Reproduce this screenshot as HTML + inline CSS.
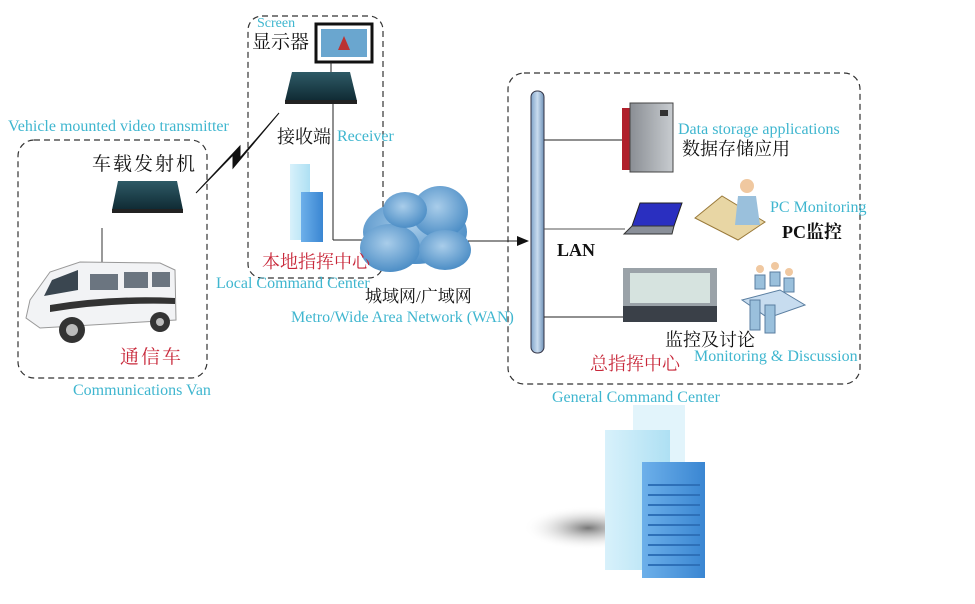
<!DOCTYPE html>
<html><head><meta charset="utf-8">
<style>
html,body{margin:0;padding:0;background:#fff;}
body{width:975px;height:604px;position:relative;overflow:hidden;}
svg{position:absolute;left:0;top:0;}
.t{position:absolute;white-space:nowrap;line-height:1;}
.en{font-family:"Liberation Serif",serif;color:#3fb6cf;font-size:16px;}
.zh{font-family:"Liberation Serif","Noto Serif CJK SC","Noto Sans CJK SC",serif;color:#111;font-size:18px;}
.red{color:#c8283a;}
</style></head><body>
<svg width="975" height="604" viewBox="0 0 975 604">
<defs>
<linearGradient id="dev" x1="0" y1="0" x2="0" y2="1"><stop offset="0" stop-color="#2e5a66"/><stop offset="1" stop-color="#0f2a33"/></linearGradient>
<radialGradient id="cl" cx="0.45" cy="0.4" r="0.6"><stop offset="0" stop-color="#a9cdea"/><stop offset="1" stop-color="#4d8ec6"/></radialGradient>
<linearGradient id="pole" x1="0" x2="1"><stop offset="0" stop-color="#7fa3c8"/><stop offset="0.5" stop-color="#c9dcef"/><stop offset="1" stop-color="#6f92b8"/></linearGradient>
<linearGradient id="blue" x1="0" x2="1"><stop offset="0" stop-color="#6db0ea"/><stop offset="1" stop-color="#3a86d2"/></linearGradient>
<linearGradient id="light" x1="0" x2="1"><stop offset="0" stop-color="#d8f1fb"/><stop offset="1" stop-color="#aee0f3"/></linearGradient>
<radialGradient id="sh" cx="0.6" cy="0.5" r="0.5"><stop offset="0" stop-color="#555" stop-opacity="0.8"/><stop offset="1" stop-color="#fff" stop-opacity="0"/></radialGradient>
<linearGradient id="srv" x1="0" x2="1"><stop offset="0" stop-color="#8a8e94"/><stop offset="1" stop-color="#c8ccd0"/></linearGradient>
</defs>
<g fill="none" stroke="#333" stroke-width="1.2" stroke-dasharray="6,4">
<rect x="18" y="140" width="189" height="238" rx="16"/>
<rect x="248" y="16" width="135" height="262" rx="14"/>
<rect x="508" y="73" width="352" height="311" rx="16"/>
</g>
<rect x="316" y="24" width="56" height="38" fill="#fff" stroke="#111" stroke-width="3"/>
<rect x="321" y="29" width="46" height="28" fill="#6aa6cf"/>
<path d="M338 50 l6 -14 l6 14z" fill="#b33"/>
<line x1="331" y1="62" x2="331" y2="72" stroke="#222"/>
<path d="M292 72 L350 72 L357 101 L285 101 Z" fill="url(#dev)"/>
<rect x="285" y="100" width="72" height="4" fill="#222"/>
<line x1="333" y1="104" x2="333" y2="240" stroke="#222"/>
<line x1="333" y1="240" x2="362" y2="240" stroke="#222"/>
<path d="M118 181 L177 181 L183 210 L112 210 Z" fill="url(#dev)"/>
<rect x="112" y="209" width="71" height="4" fill="#222"/>
<path d="M196 193 L233 155 L233 168 L279 113 L240 158 L240 146 Z" fill="#111" stroke="#111" stroke-width="1"/>
<line x1="102" y1="228" x2="102" y2="268" stroke="#777" stroke-width="1.5"/>
<path d="M30 300 L50 272 L80 262 L160 263 L175 270 L176 320 L40 328 L26 318 Z" fill="#f2f3f5" stroke="#999"/>
<path d="M52 280 L78 270 L78 290 L44 296Z" fill="#3a4650"/>
<rect x="90" y="274" width="28" height="16" fill="#6b7580"/><rect x="124" y="272" width="24" height="16" fill="#6b7580"/><rect x="152" y="272" width="18" height="15" fill="#6b7580"/>
<path d="M50 305 Q110 295 175 298 L175 304 Q110 302 50 312Z" fill="#333"/>
<circle cx="72" cy="330" r="13" fill="#333"/><circle cx="72" cy="330" r="6" fill="#bbb"/>
<circle cx="160" cy="322" r="10" fill="#333"/><circle cx="160" cy="322" r="4" fill="#bbb"/>
<rect x="290" y="164" width="20" height="76" fill="url(#light)"/>
<rect x="301" y="192" width="22" height="50" fill="url(#blue)"/>
<g fill="url(#cl)">
<ellipse cx="415" cy="232" rx="52" ry="32"/><ellipse cx="390" cy="248" rx="30" ry="24"/><ellipse cx="440" cy="212" rx="28" ry="26"/><ellipse cx="405" cy="210" rx="22" ry="18"/><ellipse cx="445" cy="250" rx="26" ry="20"/>
</g>
<line x1="468" y1="241" x2="520" y2="241" stroke="#222"/>
<path d="M529 241 L517 236 L517 246Z" fill="#111"/>
<rect x="531" y="91" width="13" height="262" rx="6" fill="url(#pole)" stroke="#334"/>
<line x1="544" y1="140" x2="625" y2="140" stroke="#222"/>
<line x1="544" y1="229" x2="625" y2="229" stroke="#555"/>
<line x1="544" y1="317" x2="625" y2="317" stroke="#222"/>
<rect x="622" y="108" width="12" height="62" fill="#b0202c"/>
<rect x="630" y="103" width="43" height="69" fill="url(#srv)" stroke="#444"/>
<rect x="660" y="110" width="8" height="6" fill="#333"/>
<path d="M640 203 L682 203 L674 226 L632 226Z" fill="#2a2fc0" stroke="#222"/>
<path d="M632 226 L674 226 L672 234 L624 234Z" fill="#8a8f99" stroke="#333"/>
<path d="M695 218 L722 196 L765 222 L738 240Z" fill="#e8d6a4" stroke="#9a7a3a"/>
<circle cx="747" cy="186" r="7" fill="#f0c8a0"/>
<path d="M738 196 L756 196 L760 225 L735 225Z" fill="#9ac0dc"/>
<rect x="623" y="268" width="94" height="54" fill="#9aa2a8"/>
<rect x="630" y="273" width="80" height="30" fill="#d6e3df"/>
<rect x="623" y="306" width="94" height="16" fill="#3a4048"/>
<path d="M742 300 L780 290 L805 305 L768 318Z" fill="#c7dcef" stroke="#5a7ea0"/>
<g fill="#9ac0dc" stroke="#5a7ea0"><rect x="755" y="275" width="10" height="14"/><rect x="770" y="272" width="10" height="14"/><rect x="784" y="278" width="10" height="14"/><rect x="750" y="300" width="10" height="30"/><rect x="765" y="305" width="10" height="28"/></g>
<g fill="#f0c8a0"><circle cx="760" cy="269" r="4"/><circle cx="775" cy="266" r="4"/><circle cx="789" cy="272" r="4"/></g>
<ellipse cx="575" cy="528" rx="65" ry="22" fill="url(#sh)"/>
<rect x="633" y="405" width="52" height="160" fill="#e2f4fb"/>
<rect x="605" y="430" width="65" height="140" fill="url(#light)"/>
<rect x="642" y="462" width="63" height="116" fill="url(#blue)"/>
<g fill="#2e70b8">
<rect x="648" y="484" width="52" height="2"/><rect x="648" y="494" width="52" height="2"/><rect x="648" y="504" width="52" height="2"/><rect x="648" y="514" width="52" height="2"/><rect x="648" y="524" width="52" height="2"/><rect x="648" y="534" width="52" height="2"/><rect x="648" y="544" width="52" height="2"/><rect x="648" y="554" width="52" height="2"/><rect x="648" y="564" width="52" height="2"/>
</g>
</svg>
<div class="t en" style="left:257px;top:17px;font-size:14px">Screen</div>
<div class="t zh" style="left:252px;top:33px;font-size:19px">显示器</div>
<div class="t en" style="left:8px;top:119px">Vehicle mounted video transmitter</div>
<div class="t zh" style="left:92px;top:155px;font-size:19px;letter-spacing:2px">车载发射机</div>
<div class="t zh" style="left:277px;top:128px">接收端</div>
<div class="t en" style="left:337px;top:129px">Receiver</div>
<div class="t zh red" style="left:262px;top:253px">本地指挥中心</div>
<div class="t en" style="left:216px;top:276px">Local Command Center</div>
<div class="t zh" style="left:365px;top:288px;font-size:17px">城域网/广域网</div>
<div class="t en" style="left:291px;top:310px">Metro/Wide Area Network (WAN)</div>
<div class="t zh red" style="left:120px;top:348px;font-size:19px;letter-spacing:2px">通信车</div>
<div class="t en" style="left:73px;top:383px">Communications Van</div>
<div class="t en" style="left:678px;top:122px">Data storage applications</div>
<div class="t zh" style="left:682px;top:140px">数据存储应用</div>
<div class="t en" style="left:770px;top:200px">PC Monitoring</div>
<div class="t zh" style="left:782px;top:223px;font-weight:bold">PC监控</div>
<div class="t zh" style="left:557px;top:241px;font-weight:bold">LAN</div>
<div class="t zh" style="left:665px;top:331px">监控及讨论</div>
<div class="t zh red" style="left:590px;top:355px">总指挥中心</div>
<div class="t en" style="left:694px;top:349px">Monitoring &amp; Discussion</div>
<div class="t en" style="left:552px;top:390px">General Command Center</div>
</body></html>
